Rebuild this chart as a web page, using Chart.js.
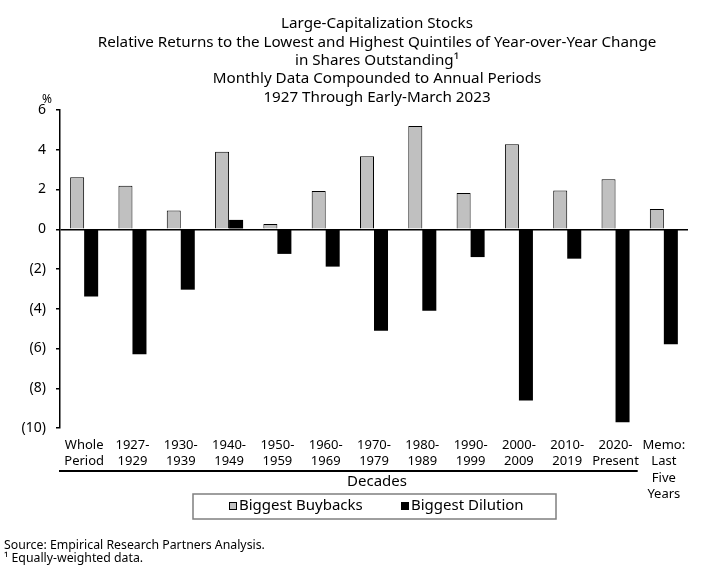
<!DOCTYPE html>
<html>
<head>
<meta charset="utf-8">
<script src="https://cdn.jsdelivr.net/npm/chart.js@4.4.0/dist/chart.umd.min.js"></script>
<style>
  body { margin: 0; background: #fff; }
  #wrap { width: 720px; height: 567px; }
</style>
</head>
<body>
<div id="wrap"><canvas id="qChart" width="720" height="567"></canvas></div>
<script>
// -------------------------------------------------------------
// DATA
// -------------------------------------------------------------
const categories = [
    ['Whole', 'Period'], ['1927-', '1929'], ['1930-', '1939'], ['1940-', '1949'],
    ['1950-', '1959'], ['1960-', '1969'], ['1970-', '1979'], ['1980-', '1989'],
    ['1990-', '1999'], ['2000-', '2009'], ['2010-', '2019'], ['2020-', 'Present'],
    ['Memo:', 'Last', 'Five', 'Years']
];
const buybacks = [2.62, 2.19, 0.94, 3.90, 0.27, 1.92, 3.67, 5.19, 1.83, 4.28, 1.95, 2.52, 1.02];
const dilution = [-3.38, -6.29, -3.04, 0.47, -1.24, -1.88, -5.11, -4.10, -1.40, -8.62, -1.48, -9.71, -5.78];
const yTicks = [6, 4, 2, 0, -2, -4, -6, -8, -10];

const titleLines = [
    'Large-Capitalization Stocks',
    'Relative Returns to the Lowest and Highest Quintiles of Year-over-Year Change',
    'in Shares Outstanding\u00B9',
    'Monthly Data Compounded to Annual Periods',
    '1927 Through Early-March 2023'
];
const footLines = ['Source: Empirical Research Partners Analysis.', '\u00B9 Equally-weighted data.'];

const FONT = '"Noto Sans", "Open Sans", sans-serif';

// -------------------------------------------------------------
// EXTRA DRAWING: title, % sign, decades rule, legend box, notes
// -------------------------------------------------------------
const decorPlugin = {
    id: 'decor',
    afterDraw(chart) {
        const ctx = chart.ctx;
        const xs = chart.scales.x;
        ctx.save();
        ctx.fillStyle = '#000';
        ctx.textBaseline = 'middle';

        // title
        ctx.font = '15.2px ' + FONT;
        ctx.textAlign = 'center';
        titleLines.forEach((t, i) => ctx.fillText(t, 377, 24 + i * 18.3));

        // % above axis
        ctx.font = '12px ' + FONT;
        ctx.fillText('%', 47, 100);

        // rule under the decades (all but the memo column)
        const half = (xs.getPixelForValue(1) - xs.getPixelForValue(0)) / 2;
        const x0 = xs.getPixelForValue(0) - half - 1;
        const x1 = xs.getPixelForValue(categories.length - 2) + half - 2;
        ctx.fillRect(x0, 470, x1 - x0, 2);
        ctx.font = '15px ' + FONT;
        ctx.fillText('Decades', 377, 482);

        // legend box
        ctx.strokeStyle = '#7f7f7f';
        ctx.lineWidth = 1.5;
        ctx.strokeRect(193, 494, 363, 25);
        const items = chart.data.datasets;
        const itemX = [229, 401];
        ctx.textAlign = 'left';
        ctx.lineWidth = 1;
        items.forEach((ds, i) => {
            ctx.fillStyle = ds.backgroundColor;
            ctx.fillRect(itemX[i], 502, 8, 8);
            ctx.strokeStyle = '#000';
            ctx.strokeRect(itemX[i] + 0.5, 502.5, 7, 7);
            ctx.fillStyle = '#000';
            ctx.fillText(ds.label, itemX[i] + 10, 506);
        });

        // footnotes
        ctx.font = '12.3px ' + FONT;
        footLines.forEach((t, i) => ctx.fillText(t, 4, 545 + i * 13));
        ctx.restore();
    }
};

function initQuintileChart() {
    const el = document.getElementById('qChart');
    if (!el) return;
    new Chart(el.getContext('2d'), {
        type: 'bar',
        data: {
            labels: categories,
            datasets: [{
                label: 'Biggest Buybacks',
                data: buybacks,
                backgroundColor: '#c0c0c0',
                borderColor: '#000',
                borderWidth: 1
            }, {
                label: 'Biggest Dilution',
                data: dilution,
                backgroundColor: '#000',
                borderColor: '#000',
                borderWidth: 0
            }]
        },
        options: {
            responsive: false,
            animation: false,
            categoryPercentage: 0.58,
            barPercentage: 1.0,
            layout: { padding: { top: 110, left: 0, right: 32, bottom: 0 } },
            scales: {
                x: {
                    grid: { display: false, drawTicks: false },
                    border: { display: false },
                    ticks: {
                        color: '#000',
                        padding: 9,
                        maxRotation: 0,
                        autoSkip: false,
                        font: { family: FONT, size: 13, lineHeight: 1.26 }
                    },
                    afterFit: (s) => { s.height = 139; }
                },
                y: {
                    min: -10,
                    max: 6,
                    afterBuildTicks: (s) => { s.ticks = yTicks.map(v => ({ value: v })); },
                    afterFit: (s) => { s.width = 60; },
                    border: { display: true, color: '#000', width: 1.5 },
                    grid: {
                        color: (c) => (c.tick && c.tick.value === 0 ? '#000' : 'rgba(0,0,0,0)'),
                        tickColor: '#000',
                        tickLength: 4,
                        lineWidth: 1.5
                    },
                    ticks: {
                        color: '#000',
                        padding: 10,
                        font: { family: FONT, size: 14 },
                        callback: (v) => (v < 0 ? '(' + Math.abs(v) + ')' : String(v))
                    }
                }
            },
            plugins: {
                legend: { display: false },
                title: { display: false },
                tooltip: { enabled: false }
            }
        },
        plugins: [decorPlugin]
    });
}

initQuintileChart();
</script>
</body>
</html>
